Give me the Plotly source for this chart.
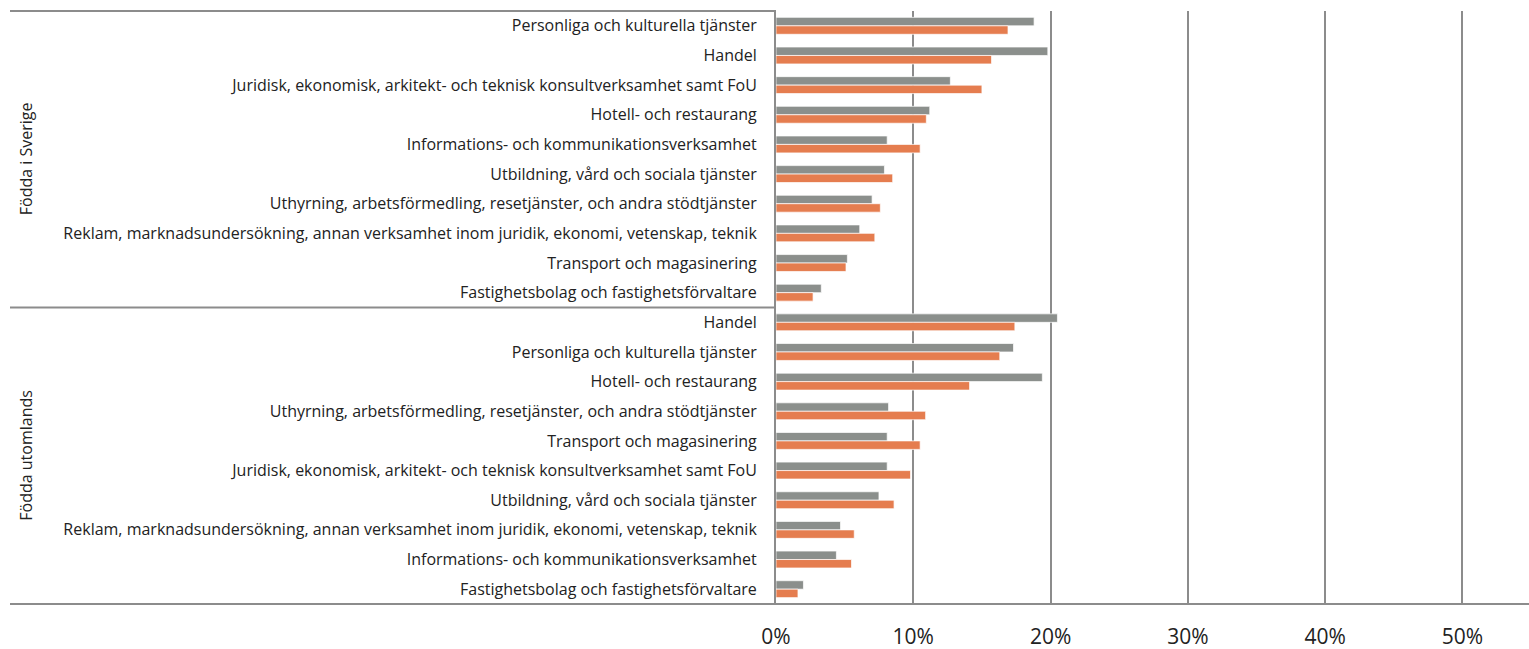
import plotly.graph_objects as go

# Industry shares by region of birth, two series per industry
groups = ["Födda i Sverige", "Födda utomlands"]

cats_sverige = [
    "Personliga och kulturella tjänster",
    "Handel",
    "Juridisk, ekonomisk, arkitekt- och teknisk konsultverksamhet samt FoU",
    "Hotell- och restaurang",
    "Informations- och kommunikationsverksamhet",
    "Utbildning, vård och sociala tjänster",
    "Uthyrning, arbetsförmedling, resetjänster, och andra stödtjänster",
    "Reklam, marknadsundersökning, annan verksamhet inom juridik, ekonomi, vetenskap, teknik",
    "Transport och magasinering",
    "Fastighetsbolag och fastighetsförvaltare",
]
gray_sverige = [0.188, 0.198, 0.127, 0.112, 0.081, 0.079, 0.070, 0.061, 0.052, 0.033]
orange_sverige = [0.169, 0.157, 0.150, 0.1095, 0.105, 0.085, 0.076, 0.072, 0.051, 0.027]

cats_utomlands = [
    "Handel",
    "Personliga och kulturella tjänster",
    "Hotell- och restaurang",
    "Uthyrning, arbetsförmedling, resetjänster, och andra stödtjänster",
    "Transport och magasinering",
    "Juridisk, ekonomisk, arkitekt- och teknisk konsultverksamhet samt FoU",
    "Utbildning, vård och sociala tjänster",
    "Reklam, marknadsundersökning, annan verksamhet inom juridik, ekonomi, vetenskap, teknik",
    "Informations- och kommunikationsverksamhet",
    "Fastighetsbolag och fastighetsförvaltare",
]
gray_utomlands = [0.205, 0.173, 0.194, 0.082, 0.081, 0.081, 0.075, 0.047, 0.044, 0.020]
orange_utomlands = [0.174, 0.163, 0.141, 0.109, 0.105, 0.098, 0.086, 0.057, 0.055, 0.016]

x_ticks = [0, 0.1, 0.2, 0.3, 0.4, 0.5]
x_tick_labels = ["0%", "10%", "20%", "30%", "40%", "50%"]

labels = cats_sverige + cats_utomlands
gray_vals = gray_sverige + gray_utomlands
orange_vals = orange_sverige + orange_utomlands
rows = list(range(len(labels)))

W, H = 1529, 649
LEFT = 776          # x pixel of the value axis origin
TOP, BOTTOM = 11, 45
FONT = "Open Sans"
TEXT = "#222222"
GRID = "#8c8c8c"

fig = go.Figure()
fig.add_trace(go.Bar(
    y=rows, x=gray_vals, orientation="h", name="gray",
    marker=dict(color="#8b8f8c", line=dict(color="rgba(255,255,255,0.7)", width=1)),
))
fig.add_trace(go.Bar(
    y=rows, x=orange_vals, orientation="h", name="orange",
    marker=dict(color="#e57d4f", line=dict(color="rgba(255,255,255,0.7)", width=1)),
))

n_sv = len(cats_sverige)
shapes = [
    # top border of the label area
    dict(type="line", xref="paper", yref="paper", x0=10 / W, x1=LEFT / W, y0=1, y1=1,
         line=dict(color=GRID, width=2)),
    # separator between the two groups
    dict(type="line", xref="paper", yref="y", x0=10 / W, x1=LEFT / W,
         y0=n_sv - 0.5, y1=n_sv - 0.5, line=dict(color=GRID, width=2)),
    # bottom border across the full width
    dict(type="line", xref="paper", yref="paper", x0=10 / W, x1=1, y0=0, y1=0,
         line=dict(color=GRID, width=2)),
]

annotations = [
    dict(text=groups[0], xref="paper", yref="y", x=26 / W, y=(n_sv - 1) / 2,
         textangle=-90, showarrow=False, font=dict(family=FONT, size=16, color=TEXT),
         xanchor="center", yanchor="middle"),
    dict(text=groups[1], xref="paper", yref="y", x=26 / W,
         y=n_sv + (len(cats_utomlands) - 1) / 2,
         textangle=-90, showarrow=False, font=dict(family=FONT, size=16, color=TEXT),
         xanchor="center", yanchor="middle"),
]

fig.update_layout(
    width=W, height=H,
    margin=dict(l=0, r=0, t=TOP, b=BOTTOM, pad=0, autoexpand=False),
    paper_bgcolor="white", plot_bgcolor="white",
    barmode="group", bargap=0.43, bargroupgap=0,
    showlegend=False,
    shapes=shapes, annotations=annotations,
    xaxis=dict(
        domain=[LEFT / W, 1], range=[0, 0.5485],
        tickvals=x_ticks, ticktext=x_tick_labels,
        showgrid=True, gridcolor=GRID, gridwidth=2,
        zeroline=False, showline=False, automargin=False,
        ticks="", ticklabelstandoff=18,
        tickfont=dict(family=FONT, size=21, color=TEXT),
    ),
    yaxis=dict(
        range=[len(labels) - 0.5, -0.5],
        tickvals=rows, ticktext=labels,
        showgrid=False, zeroline=False, automargin=False,
        showline=True, linecolor=GRID, linewidth=2,
        ticks="", ticklabelstandoff=14,
        tickfont=dict(family=FONT, size=16, color=TEXT),
    ),
)

fig.write_html("out.html")
